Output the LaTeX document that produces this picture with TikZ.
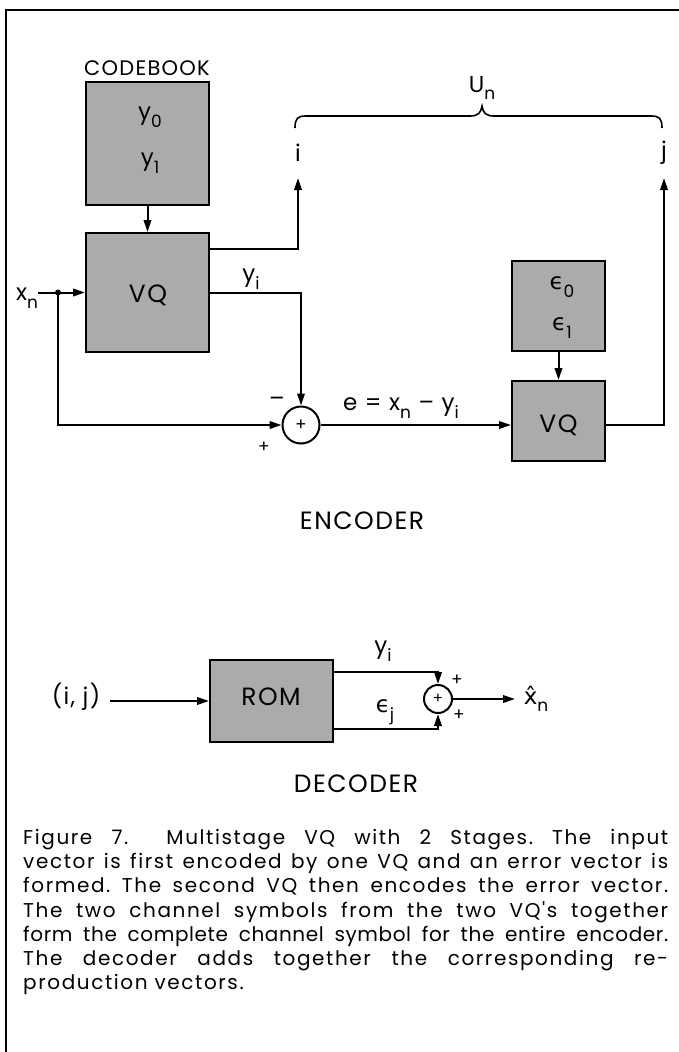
\documentclass[tikz,border=0pt]{standalone}
\usepackage{fontspec}
\setmainfont{Poppins}[LetterSpace=6]
\newfontfamily\capfont{Poppins}[LetterSpace=8]
\newfontfamily\capfontb{Poppins}[LetterSpace=3]
\newfontfamily\djv{DejaVu Sans}
\usetikzlibrary{arrows.meta,calc}
\newcommand{\lsub}[1]{\raisebox{-0.6ex}{\fontsize{17}{17}\selectfont #1}}
\newcommand{\eps}{{\djv ϵ}}
\begin{document}
\begin{tikzpicture}[x=1pt,y=-1pt,
  box/.style={draw, line width=2pt, fill=black!33, inner sep=0pt},
  wire/.style={line width=2pt},
  arr/.style={line width=2pt, -{Triangle[length=12pt,width=7.5pt]}},
  lab/.style={font=\fontsize{23}{23}\selectfont, inner sep=0pt},
  big/.style={font=\fontsize{25}{25}\selectfont, inner sep=0pt},
  slab/.style={font=\fontsize{17}{17}\selectfont, inner sep=0pt},
  sumc/.style={draw, circle, line width=2pt, fill=white, inner sep=0pt}]
\fill[white] (0,0) rectangle (679,1052);
\useasboundingbox (0,0) rectangle (679,1052);
% frame
\draw[line width=2.2pt] (6,1052) -- (6,10) -- (679,10);
% ---------------- encoder
\node[font=\fontsize{21}{21}\selectfont, inner sep=0pt] (cbl) at (147,68) {CODEBOOK};
\node[box, minimum width=123pt, minimum height=123pt] (cb) at (147.5,143.5) {};
\node[lab] (y0) at (150,117) {y\lsub{0}};
\node[lab] (y1) at (150,163) {y\lsub{1}};
\node[box, minimum width=123pt, minimum height=119pt] (vq1) at (147.5,292.5) {};
\node[big] at (148,295) {VQ};
\node[box, minimum width=93pt, minimum height=90pt] (eps) at (558.5,306) {};
\node[lab] (e0) at (562,287) {\eps\lsub{0}};
\node[lab] (e1) at (562,328) {\eps\lsub{1}};
\node[box, minimum width=93pt, minimum height=80pt] (vq2) at (558.5,421) {};
\node[big] at (558.5,425) {VQ};
\node[sumc, minimum size=37pt] (sum) at (301,425) {};
\node[slab] at (sum) {+};
\node[lab] (xn) at (27,298) {x\lsub{n}};
\coordinate (dot) at (58,292.5);
\coordinate (ti) at (298,178);
\coordinate (tj) at (664,178);
\node[lab] (il) at (298,153) {i};
\node[lab] (jl) at (664,153) {j};
\draw[arr] (cb) -- (vq1);
\draw[arr] (xn.east |- vq1.west) -- (vq1.west);
\fill (dot) circle (3pt);
\draw[arr] (dot) |- (sum.west);
\draw[arr] ([yshift=43.5pt]vq1.east) -| (ti);
\draw[arr] (vq1.east) -| (sum.north);
\draw[arr] (sum.east) -- (sum.east -| vq2.west);
\draw[arr] (eps) -- (vq2);
\draw[arr] (vq2.east |- sum.east) -| (tj);
\node[lab] at (251,279) {y\lsub{i}};
\node[lab] at (277,402) {–};
\node[slab] at (264,447) {+};
\node[lab] at (401,408) {e = x\lsub{n} – y\lsub{i}};
\node[lab] (un) at (482,88) {U\lsub{n}};
\draw[line width=1.6pt] (295,128) .. controls (295,118) and (298,116) .. (306,116) -- (470,116) .. controls (478,116) and (481,113) .. (482,106) .. controls (483,113) and (486,116) .. (494,116) -- (651,116) .. controls (659,116) and (662,118) .. (662,128);
\node[big] (enc) at (362,521) {ENCODER};
% ---------------- decoder
\node[box, minimum width=123pt, minimum height=82pt] (rom) at (271.5,701) {};
\node[big] at (271,697) {ROM};
\node[lab] (ij) at (76,697) {(i, j)};
\draw[arr] ([xshift=10pt]ij.east |- rom.west) -- (rom.west);
\node[sumc, minimum size=28pt] (dsum) at (438,699) {};
\node[font=\fontsize{15}{15}\selectfont, inner sep=0pt] at (dsum) {+};
\draw[arr] ([yshift=29pt]rom.east) -| (dsum.north);
\draw[arr] ([yshift=-28pt]rom.east) -| (dsum.south);
\coordinate (xo) at (515,699);
\draw[arr] (dsum.east) -- (xo);
\node[lab] at (536,699) {{\djv x\char"0302}\lsub{n}};
\node[lab] at (383,651) {y\lsub{i}};
\node[lab] at (385,712) {\eps\lsub{j}};
\node[slab] at (457,680) {+};
\node[slab] at (459,715) {+};
\node[big] (dec) at (356,784) {DECODER};
% ---------------- caption
\node[anchor=north west, inner sep=0pt, text width=645pt, align=justify,
      font=\capfont\fontsize{20}{24.2}\selectfont] (cap) at (23,829)
{\frenchspacing\hyphenpenalty=10000\relax\exhyphenpenalty=10000\relax
Figure 7.\ \ Multistage VQ with 2 Stages. The input\linebreak
vector is first encoded by one VQ and an error vector is\linebreak
formed. The second VQ then encodes the error vector.\linebreak
The two channel symbols from the two VQ's together\linebreak
{\capfontb form the complete channel symbol for the entire encoder.}\linebreak
The decoder adds together the corresponding re-\linebreak
production vectors.};
\end{tikzpicture}
\end{document}
